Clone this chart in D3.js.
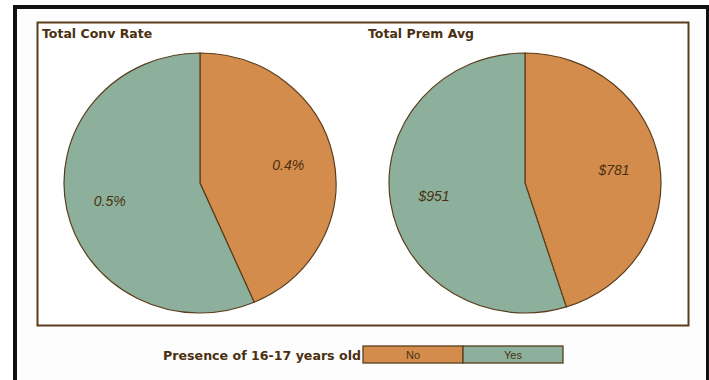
<!DOCTYPE html>
<html><head><meta charset="utf-8">
<script src="https://cdn.jsdelivr.net/npm/d3@7"></script>
<style>body{margin:0;background:#fff}svg{display:block}</style>
</head><body>
<svg id="c" width="709" height="380"></svg>
<script>
const categories = ["No", "Yes"];
const convRate = [0.40, 0.52];
const premAvg = [781, 951];
const chartTitles = ["Total Conv Rate", "Total Prem Avg"];
const legendTitle = "Presence of 16-17 years old";

const colors = d3.scaleOrdinal().domain(categories).range(["#D48C4C", "#8CB09C"]);
const stroke = "#5a3e1c";
const textCol = "#4a3010";
const boldFont = "DejaVu Sans, Verdana, sans-serif";
const labelFont = "Liberation Sans, Arial, sans-serif";

const svg = d3.select("#c");
svg.append("rect").attr("x",0).attr("y",0).attr("width",709).attr("height",380).attr("fill","#fff");
// outer frame
svg.append("path").attr("d","M15,384 V7 H707 V384").attr("fill","none").attr("stroke","#111").attr("stroke-width",4);
svg.append("rect").attr("x",17).attr("y",9).attr("width",689).attr("height",375).attr("fill","#fdfdfd");
// inner panel
svg.append("rect").attr("x",37.5).attr("y",22.5).attr("width",651).attr("height",303)
  .attr("fill","#fff").attr("stroke",stroke).attr("stroke-width",2);

const pie = d3.pie().sort(null).value(d => d);
const rx = 136, ry = 130, cy = 183;
const centers = [200, 525];
const fmts = [v => d3.format(".1f")(v) + "%", v => "$" + d3.format(",.0f")(v)];
const datasets = [convRate, premAvg];
const titleX = [42, 368];

datasets.forEach((vals, i) => {
  svg.append("text").attr("x", titleX[i]).attr("y", 37.5)
    .attr("font-family", boldFont).attr("font-weight","bold")
    .attr("font-size",12.5).attr("fill",textCol).text(chartTitles[i]);
  const g = svg.append("g").attr("transform", `translate(${centers[i]},${cy}) scale(1,${ry/rx})`);
  const arc = d3.arc().innerRadius(0).outerRadius(rx);
  const arcs = pie(vals);
  g.selectAll("path").data(arcs).join("path")
    .attr("d", arc).attr("fill", (d, j) => colors(categories[j]))
    .attr("stroke", stroke).attr("stroke-width", 1.2).attr("vector-effect","non-scaling-stroke");
  const lab = d3.arc().innerRadius(rx * 0.67).outerRadius(rx * 0.67);
  arcs.forEach((d) => {
    const [x, y] = lab.centroid(d);
    svg.append("text").attr("x", centers[i] + x - 1).attr("y", cy + y * ry / rx + 5)
      .attr("text-anchor","middle").attr("font-family", labelFont)
      .attr("font-style","italic").attr("font-size",14).attr("fill",textCol)
      .text(fmts[i](d.data));
  });
});

// legend
svg.append("text").attr("x", 361).attr("y", 360).attr("text-anchor","end")
  .attr("font-family", boldFont).attr("font-weight","bold")
  .attr("font-size",12.6).attr("fill",textCol).text(legendTitle);
const lx = d3.scaleBand().domain(categories).range([363, 563]);
categories.forEach(c => {
  svg.append("rect").attr("x", lx(c)).attr("y", 346).attr("width", lx.bandwidth()).attr("height", 17)
    .attr("fill", colors(c)).attr("stroke", stroke).attr("stroke-width", 1.3);
  svg.append("text").attr("x", lx(c) + lx.bandwidth()/2).attr("y", 358.5).attr("text-anchor","middle")
    .attr("font-family", labelFont).attr("font-size",11)
    .attr("fill",textCol).text(c);
});
</script>
</body></html>
